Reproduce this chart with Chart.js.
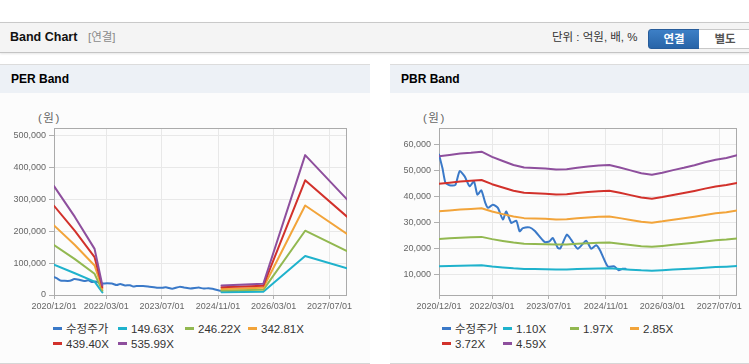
<!DOCTYPE html>
<html><head><meta charset="utf-8">
<script src="https://cdn.jsdelivr.net/npm/chart.js@4/dist/chart.umd.min.js"></script>
<style>
html,body{margin:0;padding:0;background:#fff;width:749px;height:364px;overflow:hidden;font-family:"Liberation Sans","Noto Sans CJK KR",sans-serif;}
.hdr{position:absolute;left:0;top:22px;width:749px;height:29px;background:#f4f4f4;border-top:1px solid #c9c9c9;border-bottom:1px solid #c4c4c4;box-shadow:0 1px 2px rgba(0,0,0,0.10);}
.hdr .t{position:absolute;left:10px;top:0;line-height:29px;font-size:12.5px;font-weight:bold;color:#111;}
.hdr .s{position:absolute;left:88px;top:0;line-height:29px;font-size:11.5px;color:#8a8a8a;}
.hdr .u{position:absolute;left:552px;top:0;line-height:29px;font-size:11.5px;color:#333;}
.b1{position:absolute;left:648px;top:6px;width:50px;height:18px;background:linear-gradient(#3d7fc6,#2864a8);border:1px solid #275c9a;border-radius:3px 0 0 3px;color:#fff;font-weight:bold;font-size:11.5px;text-align:center;line-height:18px;box-sizing:content-box;}
.b2{position:absolute;left:699px;top:6px;width:52px;height:18px;background:#fff;border:1px solid #c8c8c8;border-left:none;color:#555;font-weight:bold;font-size:11.5px;text-align:center;line-height:18px;}
.panel{position:absolute;top:64px;height:298px;background:#fcfcfc;border-top:1px solid #dcdcdc;border-bottom:1px solid #d6d6d6;}
.ptitle{height:28px;background:#edf1f6;font-weight:bold;font-size:12px;padding-left:11px;line-height:29px;color:#000;}
.unit{position:absolute;top:111px;font-size:11.5px;color:#666;line-height:14px;letter-spacing:1.5px;}
.legend{position:absolute;left:0;width:749px;height:40px;}
.li{position:absolute;font-size:11.5px;color:#333;line-height:14px;white-space:nowrap;}
.mk{display:inline-block;width:9px;height:3px;margin-right:4px;vertical-align:middle;position:relative;top:-1px;}
canvas{position:absolute;}
</style>
</head><body>
<div class="hdr"><span class="t">Band Chart</span><span class="s">[연결]</span><span class="u">단위 : 억원, 배, %</span><div class="b1">연결</div><div class="b2">별도</div></div>
<div class="panel" style="left:0;width:370px;"><div class="ptitle">PER Band</div></div>
<div class="panel" style="left:390px;width:359px;"><div class="ptitle">PBR Band</div></div>
<div class="unit" style="left:38px;">(원)</div>
<div class="unit" style="left:423px;">(원)</div>
<canvas id="per" width="370" height="220" style="left:0;top:100px;"></canvas>
<canvas id="pbr" width="359" height="220" style="left:390px;top:100px;"></canvas>
<div class="legend" id="perLeg" style="top:322px;"></div>
<div class="legend" id="pbrLeg" style="top:322px;"></div>
<script>
// ---------- data ----------
const xTickLabels = ["2020/12/01","2022/03/01","2023/07/01","2024/11/01","2026/03/01","2027/07/01"];
const xRange = ["2020/12/01","2027/12/01"];

const priceLabel = "수정주가";
const priceDates = ["2020/12/01","2020/12/31","2021/01/25","2021/03/01","2021/04/20","2021/05/27","2021/07/09","2021/08/21","2021/09/27","2021/10/26","2021/11/29","2022/01/02","2022/01/25","2022/03/08","2022/04/20","2022/06/02","2022/07/01","2022/08/13","2022/09/25","2022/10/23","2022/11/21","2023/01/17","2023/03/01","2023/05/25","2023/07/07","2023/08/04","2023/09/16","2023/10/07","2023/12/02","2024/01/08","2024/03/05","2024/05/16","2024/06/28","2024/08/10","2024/09/13","2024/11/17","2025/01/13","2025/02/19","2025/03/25","2025/04/19"];
const priceValues = [56300,51000,45500,44500,44600,49900,47900,44100,46000,40900,42500,37700,35800,37000,35800,31300,34400,30000,30900,26800,28000,28300,27000,22700,22900,24200,20400,20200,25500,23600,20100,23200,20100,21400,19400,13300,13300,11800,12400,12400];

const perLabels = ["149.63X","246.22X","342.81X","439.40X","535.99X"];
const perDates = ["2020/12/01","2021/06/01","2021/11/20","2022/01/27","2023/06/01","2024/12/01","2025/12/01","2026/12/01","2027/12/01"];
const per149 = [95350, 68400, 42000, 8380, null, 8380, 9910, 122600, 83760];
const per246 = [156900, 112550, 66470, 13780, null, 13780, 16310, 201700, 137800];
const per342 = [218400, 156700, 92550, 19190, null, 19190, 22710, 280800, 191900];
const per439 = [280000, 200900, 118600, 24600, null, 24600, 29100, 359900, 245900];
const per535 = [341500, 245000, 144700, 30000, null, 30000, 35500, 439000, 300000];
const perYTicks = [0,100000,200000,300000,400000,500000];

const pbrLabels = ["1.10X","1.97X","2.85X","3.72X","4.59X"];
const pbrDates = ["2020/12/01","2021/03/01","2021/06/01","2021/09/01","2021/12/01","2022/03/01","2022/06/01","2022/09/01","2022/12/01","2023/03/01","2023/06/01","2023/09/01","2023/12/01","2024/03/01","2024/06/01","2024/09/01","2024/12/01","2025/03/01","2025/06/01","2025/09/01","2025/12/01","2026/03/01","2026/06/01","2026/09/01","2026/12/01","2027/03/01","2027/06/01","2027/09/01","2027/12/01"];
const pbr110 = [13330,13450,13590,13660,13760,13280,12900,12540,12300,12250,12200,12100,12130,12270,12390,12490,12540,12300,12030,11770,11630,11820,12060,12270,12510,12780,13020,13180,13420];
const pbr197 = [23860,24080,24340,24460,24640,23780,23090,22450,22020,21930,21850,21670,21720,21980,22190,22360,22450,22020,21550,21070,20820,21160,21590,21980,22400,22880,23310,23610,24040];
const pbr285 = [34520,34830,35200,35390,35640,34400,33400,32470,31850,31730,31600,31360,31420,31790,32100,32350,32470,31850,31170,30490,30110,30610,31230,31790,32410,33090,33710,34150,34770];
const pbr372 = [45060,45470,45950,46200,46520,44900,43600,42390,41580,41420,41250,40930,41010,41500,41900,42230,42390,41580,40690,39800,39310,39960,40770,41500,42310,43200,44010,44580,45390];
const pbr459 = [55600,56100,56700,57000,57400,55400,53800,52300,51300,51100,50900,50500,50600,51200,51700,52100,52300,51300,50200,49100,48500,49300,50300,51200,52200,53300,54300,55000,56000];
const pbrYTicks = [10000,20000,30000,40000,50000,60000];
const pbrYRange = [2300, 66500];
const perYRange = [0, 524000];

const colors = ["#3a79c8","#1fb2cc","#92b850","#f2a43a","#d2312b","#8e4f9d"];

// ---------- helpers ----------
function ts(s){const p=s.split("/").map(Number);return Date.UTC(p[0],p[1]-1,p[2]);}
function pts(dates, vals){return dates.map((d,i)=>({x:ts(d),y:vals[i]}));}

const frame = {id:"frame",beforeDatasetsDraw(c){const a=c.chartArea,ctx=c.ctx;ctx.save();ctx.strokeStyle="#ababab";ctx.lineWidth=1;
  ctx.strokeRect(Math.round(a.left)+0.5,Math.round(a.top)+0.5,Math.round(a.right)-Math.round(a.left)-1,Math.round(a.bottom)-Math.round(a.top));ctx.restore();}};

function makeChart(id, bandLabels, bandDates, bandSeries, yTicks, yRange, yWidth, padRight){
  const datasets=[{label:priceLabel,data:pts(priceDates,priceValues),borderColor:colors[0],backgroundColor:colors[0],tension:0.2,order:5}];
  bandSeries.forEach((vals,i)=>datasets.push({label:bandLabels[i],data:pts(bandDates,vals),borderColor:colors[i+1],backgroundColor:colors[i+1],tension:0,order:4-i,spanGaps:false}));
  const tickFont={size:9,family:"Liberation Sans"};
  return new Chart(document.getElementById(id),{
    type:"line",
    data:{datasets},
    options:{
      responsive:false,animation:false,
      layout:{padding:{top:28,right:padRight,left:0,bottom:0}},
      plugins:{legend:{display:false},tooltip:{enabled:false}},
      elements:{point:{radius:0},line:{borderWidth:2,borderCapStyle:"round",borderJoinStyle:"round"}},
      scales:{
        x:{type:"linear",min:ts(xRange[0]),max:ts(xRange[1]),
          afterBuildTicks:s=>{s.ticks=xTickLabels.map(l=>({value:ts(l)}));},
          afterFit:s=>{s.height=25;},
          ticks:{autoSkip:false,maxRotation:0,minRotation:0,font:tickFont,color:"#666",padding:2,callback:(v,i)=>xTickLabels[i]},
          grid:{color:"#e8e8e8",tickLength:4,tickColor:"#b0b0b0"},
          border:{display:false}},
        y:{min:yRange[0],max:yRange[1],
          afterBuildTicks:s=>{s.ticks=yTicks.map(v=>({value:v}));},
          afterFit:s=>{s.width=yWidth;},
          ticks:{font:tickFont,color:"#666",padding:3,callback:v=>Number(v).toLocaleString("en-US")},
          grid:{color:"#e8e8e8",tickLength:5,tickColor:"#b0b0b0"},
          border:{display:false}}
      }
    },
    plugins:[frame]
  });
}

function buildLegend(chart, elId, cols){
  const el=document.getElementById(elId);
  chart.data.datasets.forEach((ds,i)=>{
    const d=document.createElement("div");d.className="li";
    d.style.left=cols[i%4]+"px";d.style.top=(Math.floor(i/4)*15)+"px";
    const m=document.createElement("span");m.className="mk";m.style.background=ds.borderColor;
    d.appendChild(m);d.appendChild(document.createTextNode(ds.label));el.appendChild(d);
  });
}

const perChart=makeChart("per",perLabels,perDates,[per149,per246,per342,per439,per535],perYTicks,perYRange,54,23);
const pbrChart=makeChart("pbr",pbrLabels,pbrDates,[pbr110,pbr197,pbr285,pbr372,pbr459],pbrYTicks,pbrYRange,49,12);
buildLegend(perChart,"perLeg",[53,118,185,248]);
buildLegend(pbrChart,"pbrLeg",[442,503,570,630]);
</script>
</body></html>
